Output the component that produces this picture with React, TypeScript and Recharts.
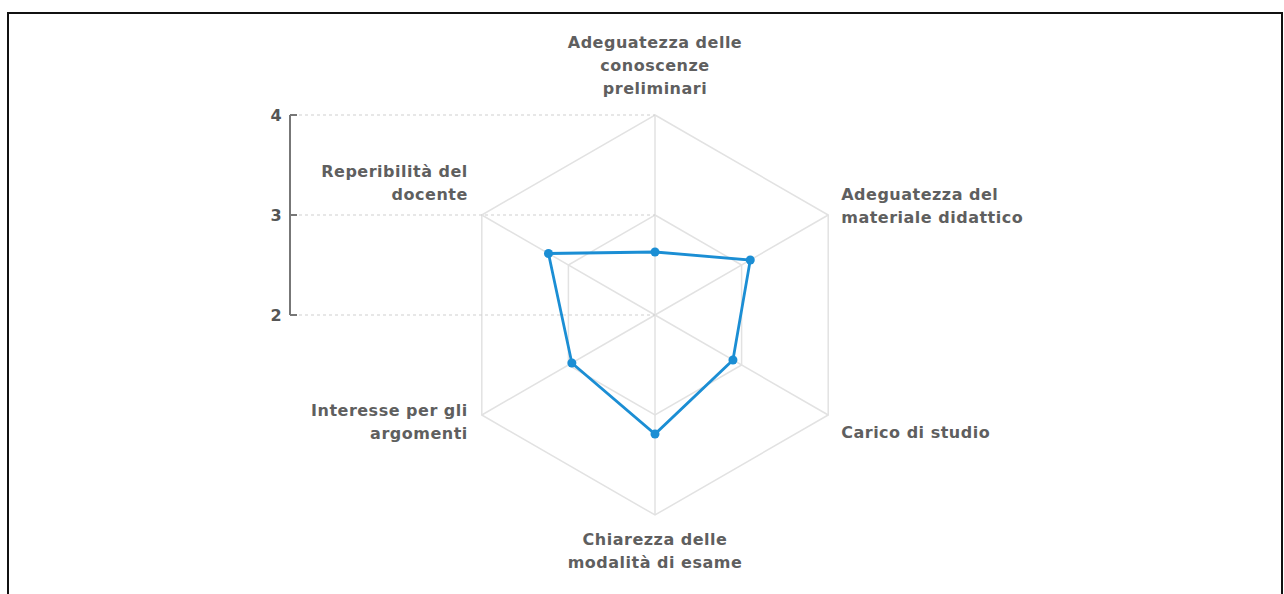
import { RadarChart, PolarGrid, PolarAngleAxis, PolarRadiusAxis, Radar } from "recharts";

const categories = [
  "Adeguatezza delle conoscenze preliminari",
  "Adeguatezza del materiale didattico",
  "Carico di studio",
  "Chiarezza delle modalità di esame",
  "Interesse per gli argomenti",
  "Reperibilità del docente",
];
const labelLines = [
  ["Adeguatezza delle", "conoscenze", "preliminari"],
  ["Adeguatezza del", "materiale didattico"],
  ["Carico di studio"],
  ["Chiarezza delle", "modalità di esame"],
  ["Interesse per gli", "argomenti"],
  ["Reperibilità del", "docente"],
];
const scores = [2.63, 3.1, 2.9, 3.19, 2.96, 3.23];
const radiusDomain = [2, 4];

const data = categories.map((name, i) => ({ name, score: scores[i] }));

const CX = 655;
const CY = 315;
const R = 200;
const AXIS_X = 290;
const LINE_H = 23;
const BLUE = "#1b8ed4";
const TEXT = "#5f5f5f";
const FONT = "'DejaVu Sans', Verdana, sans-serif";

// per-direction label placement, relative to the outer vertex
const labelPlace = [
  { dx: 0, anchor: "middle", lastBaseline: -21 },
  { dx: 13, anchor: "start", lastBaseline: 8 },
  { dx: 13, anchor: "start", firstBaseline: 23 },
  { dx: 0, anchor: "middle", firstBaseline: 30 },
  { dx: -14, anchor: "end", firstBaseline: 1 },
  { dx: -14, anchor: "end", lastBaseline: -15 },
];

function AngleTick(props: any) {
  const { payload } = props;
  const i = payload.index;
  const a = (payload.coordinate * Math.PI) / 180;
  const vx = CX + R * Math.cos(a);
  const vy = CY - R * Math.sin(a);
  const lines = labelLines[i];
  const p: any = labelPlace[i];
  const first = p.firstBaseline !== undefined ? vy + p.firstBaseline : vy + p.lastBaseline - (lines.length - 1) * LINE_H;
  return (
    <text x={vx + p.dx} y={first} textAnchor={p.anchor} fill={TEXT} fontFamily={FONT} fontSize={16} fontWeight="bold" letterSpacing={0.5}>
      {lines.map((l, k) => (
        <tspan key={k} x={vx + p.dx} dy={k === 0 ? 0 : LINE_H}>
          {l}
        </tspan>
      ))}
    </text>
  );
}

function RadiusTick(props: any) {
  const { x, y, payload } = props;
  const isBase = payload.value === radiusDomain[0];
  return (
    <g>
      {isBase && <line x1={AXIS_X} y1={y} x2={AXIS_X} y2={y - R} stroke="#777" strokeWidth={2} />}
      <line x1={AXIS_X} y1={y} x2={AXIS_X + 7} y2={y} stroke="#777" strokeWidth={2} />
      <line x1={AXIS_X + 9} y1={y} x2={x} y2={y} stroke="#cfcfcf" strokeWidth={1} strokeDasharray="3 3" />
      <text x={AXIS_X - 14} y={y + 6} textAnchor="middle" fill="#555" fontFamily={FONT} fontSize={16} fontWeight="bold">
        {payload.value}
      </text>
    </g>
  );
}

function Dot(props: any) {
  const { cx, cy, index } = props;
  return <circle key={index} cx={cx} cy={cy} r={4.5} fill={BLUE} stroke="none" />;
}

export default function App() {
  return (
    <div>
      <div
        style={{
          position: "absolute",
          left: 7,
          top: 12,
          width: 1272,
          height: 600,
          borderLeft: "2px solid #111",
          borderTop: "2px solid #111",
          borderRight: "2px solid #111",
        }}
      />
      <div style={{ position: "absolute", left: 0, top: 0 }}>
        <RadarChart width={1284} height={594} data={data} cx={CX} cy={CY} outerRadius={R} margin={{ top: 0, right: 0, bottom: 0, left: 0 }}>
          <PolarGrid gridType="polygon" stroke="#e2e2e2" strokeWidth={1.5} />
          <PolarAngleAxis dataKey="name" tick={<AngleTick />} tickLine={false} axisLine={false} />
          <PolarRadiusAxis angle={90} domain={radiusDomain} tickCount={3} axisLine={false} tickLine={false} tick={<RadiusTick />} />
          <Radar dataKey="score" stroke={BLUE} strokeWidth={2.8} fill="none" fillOpacity={0} dot={<Dot />} isAnimationActive={false} />
        </RadarChart>
      </div>
    </div>
  );
}
